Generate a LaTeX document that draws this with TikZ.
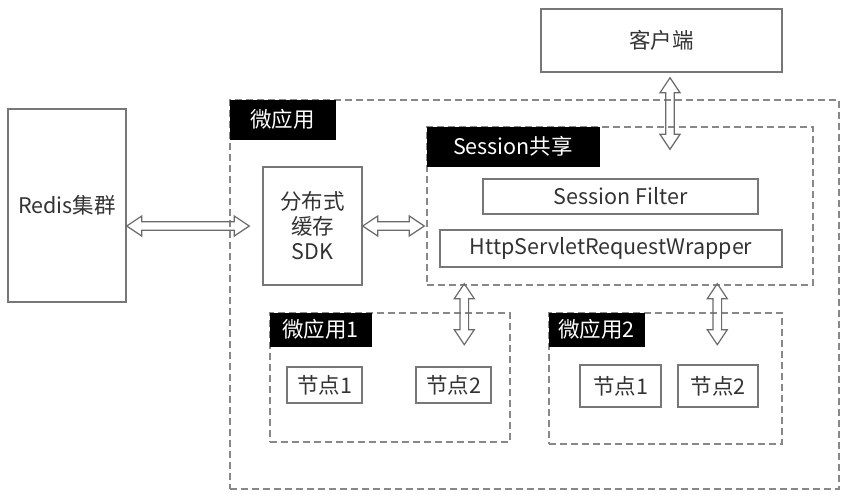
\documentclass[tikz,border=0pt]{standalone}
\usepackage{fontspec}
\setmainfont{Noto Sans CJK SC}
\usetikzlibrary{calc}
\definecolor{txt}{HTML}{333333}
\definecolor{solidc}{HTML}{777777}
\definecolor{dashc}{HTML}{888888}
\definecolor{arrc}{HTML}{6A6A6A}
\newcommand\fs{\fontsize{21.5}{25}\selectfont}
\def\ahl{15}\def\ahw{10}\def\asw{4.3}
\newcommand\harrow[2]{\draw[barrow] (#1) -- ($(#1)+(\ahl,\ahw)$) -- ($(#1)+(\ahl,\asw)$) -- ($(#2)+(-\ahl,\asw)$) -- ($(#2)+(-\ahl,\ahw)$) -- (#2) -- ($(#2)+(-\ahl,-\ahw)$) -- ($(#2)+(-\ahl,-\asw)$) -- ($(#1)+(\ahl,-\asw)$) -- ($(#1)+(\ahl,-\ahw)$) -- cycle;}
\newcommand\varrow[2]{\draw[barrow] (#1) -- ($(#1)+(\ahw,\ahl)$) -- ($(#1)+(\asw,\ahl)$) -- ($(#2)+(\asw,-\ahl)$) -- ($(#2)+(\ahw,-\ahl)$) -- (#2) -- ($(#2)+(-\ahw,-\ahl)$) -- ($(#2)+(-\asw,-\ahl)$) -- ($(#1)+(-\asw,\ahl)$) -- ($(#1)+(-\ahw,\ahl)$) -- cycle;}
\tikzset{
  box/.style={draw=solidc, line width=1.4pt, text=txt, inner sep=0pt, font=\fs},
  dbox/.style={draw=dashc, line width=1.4pt, dash pattern=on 7pt off 4pt, inner sep=0pt},
  lab/.style={fill=black, text=white, inner sep=0pt, anchor=north west, font=\fs},
  barrow/.style={draw=arrc, line width=1.2pt, line join=miter},
}
\begin{document}
\begin{tikzpicture}[x=1pt,y=-1pt]
\useasboundingbox (0,0) rectangle (863,499);
\fill[white] (0,0) rectangle (863,499);
% outer containers
\node[dbox, minimum width=609pt, minimum height=389pt] (outer) at (534.5,294.5) {};
\node[lab, minimum width=106pt, minimum height=40pt] (outerlab) at (outer.north west) {微应用};
\node[dbox, minimum width=386pt, minimum height=158pt] (session) at (620,206) {};
\node[lab, minimum width=173pt, minimum height=40pt] (sesslab) at (session.north west) {Session共享};
\node[dbox, minimum width=240pt, minimum height=129pt] (app1) at (390,377.5) {};
\node[lab, minimum width=102pt, minimum height=34pt] (app1lab) at (app1.north west) {微应用1};
\node[dbox, minimum width=233pt, minimum height=131pt] (app2) at (665.5,378.5) {};
\node[lab, minimum width=96pt, minimum height=34pt] (app2lab) at (app2.north west) {微应用2};
% solid boxes
\node[box, minimum width=118pt, minimum height=193pt] (redis) at (67,205.5) {Redis集群};
\node[box, minimum width=99pt, minimum height=118pt, align=center] (sdk) at (312.5,226) {分布式\\缓存\\SDK};
\node[box, minimum width=275pt, minimum height=35pt] (filter) at (620.5,196.5) {Session Filter};
\node[box, minimum width=342pt, minimum height=37pt] (wrapper) at (611,248.5) {HttpServletRequestWrapper};
\node[box, minimum width=241pt, minimum height=63pt] (client) at (661.5,40.5) {客户端};
\node[box, minimum width=75pt, minimum height=36pt] (n11) at (324.5,385) {节点1};
\node[box, minimum width=75pt, minimum height=36pt] (n12) at (453.5,385) {节点2};
\node[box, minimum width=81pt, minimum height=42pt] (n21) at (620.5,386) {节点1};
\node[box, minimum width=80pt, minimum height=42pt] (n22) at (718,386) {节点2};
% arrow end points
\coordinate (a1s) at (redis.east |- sdk.west);
\coordinate (a1e) at ($(sdk.west)+(-13,0)$);
\coordinate (a2s) at (sdk.east);
\coordinate (a2e) at ($(session.west |- sdk.east)+(-2,0)$);
\coordinate (a3s) at ($(client.south)+(8.5,5)$);
\coordinate (a3e) at ($(a3s |- session.north)+(0,23)$);
\coordinate (a4s) at ($(session.south west)+(38,-2)$);
\coordinate (a4e) at ($(a4s |- app1lab.south)+(0,-2)$);
\coordinate (a5s) at ($(session.south west)+(291,-2)$);
\coordinate (a5e) at ($(a5s |- app2lab.south)+(0,-2)$);
\harrow{a1s}{a1e}
\harrow{a2s}{a2e}
\varrow{a3s}{a3e}
\varrow{a4s}{a4e}
\varrow{a5s}{a5e}
\end{tikzpicture}
\end{document}
